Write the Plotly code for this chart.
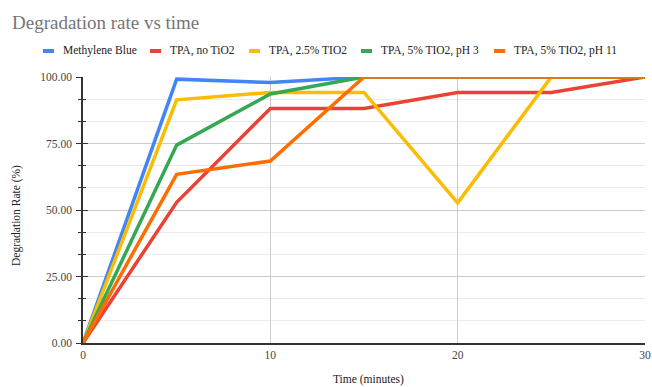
import plotly.graph_objects as go

# Sampling times (minutes)
time_min = [0, 5, 10, 15, 20, 25, 30]

# Degradation rate (%) for each run
series_names = [
    "Methylene Blue",
    "TPA, no TiO2",
    "TPA, 2.5% TIO2",
    "TPA, 5% TIO2, pH 3",
    "TPA, 5% TIO2, pH 11",
]
methylene_blue = [0, 99.2, 97.9, 100, 100, 100, 100]
tpa_no_tio2 = [0, 52.9, 88.2, 88.2, 94.2, 94.2, 100]
tpa_2_5_tio2 = [0, 91.4, 94.2, 94.2, 52.7, 100, 100]
tpa_5_tio2_ph3 = [0, 74.4, 93.6, 100, 100, 100, 100]
tpa_5_tio2_ph11 = [0, 63.4, 68.4, 100, 100, 100, 100]

series_values = [methylene_blue, tpa_no_tio2, tpa_2_5_tio2, tpa_5_tio2_ph3, tpa_5_tio2_ph11]
colors = ["#4285F4", "#EA4335", "#FBBC04", "#34A853", "#FF6D01"]

y_tick_vals = [0, 25, 50, 75, 100]
y_tick_text = ["0.00", "25.00", "50.00", "75.00", "100.00"]
x_tick_vals = [0, 10, 20, 30]

W, H = 652, 387
L, R, T, B = 83, 7, 77, 44
PW, PH = W - L - R, H - T - B

SERIF = "Liberation Serif, Times New Roman, serif"

fig = go.Figure()
for name, vals, col in zip(series_names, series_values, colors):
    fig.add_trace(go.Scatter(
        x=time_min, y=vals, name=name, mode="lines",
        line=dict(color=col, width=3.5), showlegend=False,
    ))


def px_x(px):
    return (px - L) / PW


def px_y(py):
    return (H - B - py) / PH


# Custom legend row: short colour bar + label
legend_icon_x = [43, 150, 249, 361, 494]
legend_y = 51
shapes = []
annotations = []
for name, col, ix in zip(series_names, colors, legend_icon_x):
    shapes.append(dict(
        type="rect", xref="paper", yref="paper",
        x0=px_x(ix), x1=px_x(ix + 11),
        y0=px_y(legend_y + 2), y1=px_y(legend_y - 2),
        fillcolor=col, line=dict(width=0),
    ))
    annotations.append(dict(
        text=name, xref="paper", yref="paper",
        x=px_x(ix + 18), y=px_y(legend_y), xanchor="left", yanchor="middle",
        showarrow=False, font=dict(family=SERIF, size=11.5, color="#222222"),
    ))

# Axis titles
annotations.append(dict(
    text="Degradation Rate (%)", xref="paper", yref="paper",
    x=px_x(17), y=px_y(216), xanchor="center", yanchor="middle",
    textangle=-90, showarrow=False,
    font=dict(family=SERIF, size=11.5, color="#222222"),
))
annotations.append(dict(
    text="Time (minutes)", xref="paper", yref="paper",
    x=px_x(368), y=px_y(379), xanchor="center", yanchor="middle",
    showarrow=False, font=dict(family=SERIF, size=11.5, color="#222222"),
))

fig.update_layout(
    width=W, height=H,
    margin=dict(l=L, r=R, t=T, b=B, autoexpand=False),
    paper_bgcolor="white", plot_bgcolor="white",
    title=dict(
        text="Degradation rate vs time",
        x=12 / W, xref="container", xanchor="left",
        y=1 - 22 / H, yref="container", yanchor="middle",
        font=dict(family=SERIF, size=19, color="#757575"),
    ),
    shapes=shapes,
    annotations=annotations,
    xaxis=dict(
        range=[0, 30], tickvals=x_tick_vals, ticktext=[str(v) for v in x_tick_vals],
        showgrid=True, gridcolor="#CCCCCC", gridwidth=1,
        zeroline=False, showline=True, linecolor="#333333", linewidth=1.5,
        ticks="", tickfont=dict(family=SERIF, size=11.5, color="#444444"),
        automargin=False, fixedrange=True,
    ),
    yaxis=dict(
        range=[0, 100], tickvals=y_tick_vals, ticktext=y_tick_text,
        showgrid=True, gridcolor="#CCCCCC", gridwidth=1,
        zeroline=False, showline=True, linecolor="#333333", linewidth=1.5,
        ticks="outside", ticklen=5, tickcolor="#333333", tickwidth=1.2,
        ticklabelstandoff=2,
        minor=dict(dtick=25 / 3, tick0=0, showgrid=True, gridcolor="#EBEBEB",
                   ticks="outside", ticklen=3, tickcolor="#333333", tickwidth=1.2),
        tickfont=dict(family=SERIF, size=11.5, color="#444444"),
        automargin=False, fixedrange=True,
    ),
    # Overlaid axis so tick marks cross the y axis line
    yaxis2=dict(
        overlaying="y", side="left", range=[0, 100], tickvals=y_tick_vals,
        showticklabels=False, showgrid=False, zeroline=False, showline=False,
        ticks="inside", ticklen=5, tickcolor="#333333", tickwidth=1.2,
        minor=dict(dtick=25 / 3, tick0=0, showgrid=False,
                   ticks="inside", ticklen=3, tickcolor="#333333", tickwidth=1.2),
        automargin=False, fixedrange=True,
    ),
)

# Invisible trace to activate the overlaid axis
fig.add_trace(go.Scatter(x=[0], y=[0], yaxis="y2", mode="markers",
                         marker=dict(opacity=0), showlegend=False, hoverinfo="skip"))

fig.write_html("out.html")
